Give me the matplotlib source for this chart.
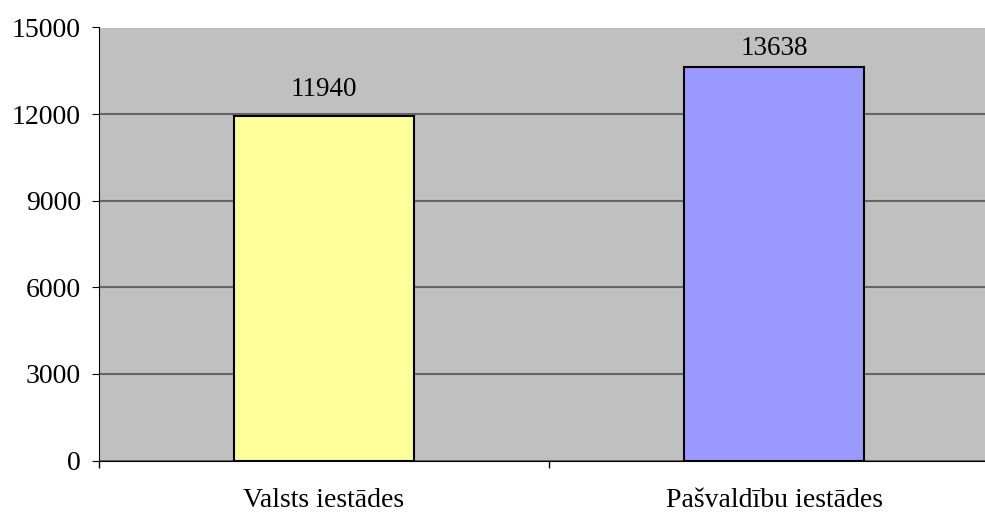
import matplotlib.pyplot as plt

categories = ['Valsts iestādes', 'Pašvaldību iestādes']
values = [11940, 13638]
colors = ['#FFFF99', '#9999FF']
yticks = [0, 3000, 6000, 9000, 12000, 15000]
label_offsets = [10, 4]  # points above bar top

plt.rcParams['font.family'] = ['Liberation Serif', 'DejaVu Serif']

fig = plt.figure(figsize=(9.85, 5.12), dpi=100)
ax = fig.add_axes([99 / 985, 51.5 / 512, 900 / 985, 433 / 512])
ax.set_facecolor('#C0C0C0')

x = range(len(categories))
bars = ax.bar(x, values, width=0.4, color=colors, edgecolor='black', linewidth=1.5, zorder=3)
for b, v, off in zip(bars, values, label_offsets):
    ax.annotate(str(v), (b.get_x() + b.get_width() / 2, v), xytext=(0, off),
                textcoords='offset points', ha='center', va='bottom', fontsize=19.5)

ax.set_xlim(-0.5, 1.5)
ax.set_ylim(0, 15000)
ax.set_yticks(yticks)
ax.set_yticklabels([str(t) for t in yticks])
ax.yaxis.grid(True, color='#666666', linewidth=1.5, zorder=1)
ax.set_xticks([-0.5, 0.5, 1.5])
ax.set_xticklabels([])
ax.set_xticks(list(x), minor=True)
ax.set_xticklabels(categories, minor=True)
ax.tick_params(axis='x', which='minor', length=0, pad=20, labelsize=20)
ax.tick_params(axis='x', which='major', length=5, direction='out', width=1)
ax.tick_params(axis='y', length=5, direction='out', labelsize=20, pad=8)

for side in ['top', 'right']:
    ax.spines[side].set_visible(False)
ax.spines['left'].set_color('black')
ax.spines['bottom'].set_color('black')

fig.savefig('out.png', dpi=100)
